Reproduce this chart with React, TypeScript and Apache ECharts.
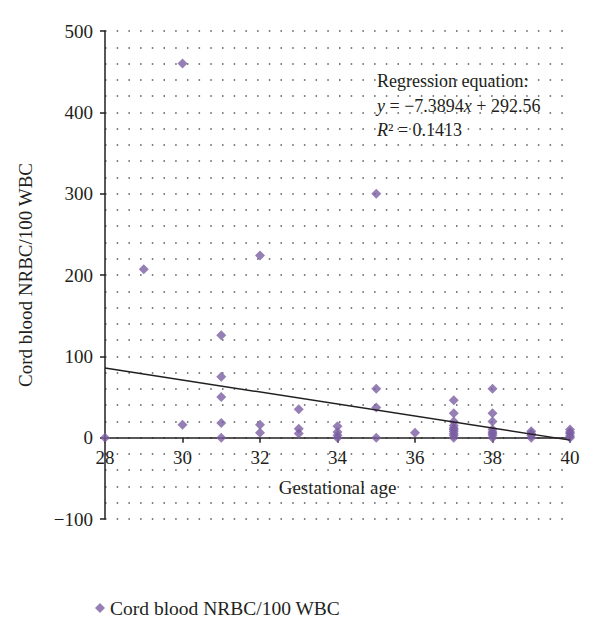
import React, { useEffect, useRef } from "react";
import * as echarts from "echarts";

const seriesName = "Cord blood NRBC/100 WBC";
const xAxisName = "Gestational age";
const yAxisName = "Cord blood NRBC/100 WBC";

// Gestational age (weeks) and NRBC/100 WBC
const ages: number[] = [
  28, 29, 30, 30,
  31, 31, 31, 31, 31,
  32, 32, 32,
  33, 33, 33,
  34, 34, 34, 34,
  35, 35, 35, 35,
  36,
  37, 37, 37, 37, 37, 37, 37, 37, 37, 37,
  38, 38, 38, 38, 38, 38, 38, 38,
  39, 39, 39, 39,
  40, 40, 40, 40, 40,
];
const nrbc: number[] = [
  0, 207, 460, 16,
  126, 75, 50, 18, 0,
  224, 16, 6,
  35, 11, 5,
  14, 7, 3, 0,
  300, 60, 37, 0,
  6,
  46, 30, 20, 15, 12, 10, 8, 5, 3, 0,
  60, 30, 20, 10, 7, 5, 3, 0,
  8, 5, 3, 0,
  10, 7, 5, 2, 0,
];

// Regression line endpoints (y = -7.3894x + 292.56 at x = 28 and 40)
const trendX: number[] = [28, 40];
const trendY: number[] = [85.66, -3.02];

const equationLines: string[] = [
  "Regression equation:",
  "{i|y} = \u22127.3894{i|x} + 292.56",
  "{i|R}\u00b2 = 0.1413",
];

const FONT = "'Liberation Serif', 'DejaVu Serif', serif";
const INK = "#231f20";
const PURPLE = "#7a5fa3";

const GRID_TOP = 23;
const GRID_BOTTOM = 131;
const CHART_H = 642;
const PLOT_H = CHART_H - GRID_TOP - GRID_BOTTOM;
const Y_MIN = -100;
const Y_MAX = 500;

export default function App() {
  const ref = useRef<HTMLDivElement>(null);

  useEffect(() => {
    if (!ref.current) return;
    const chart = echarts.init(ref.current, undefined, { renderer: "svg" });
    const dotted = { color: "#555", width: 1.5, type: [1.5, 10.2] as number[] };
    const zeroOffset = -(PLOT_H * (0 - Y_MIN)) / (Y_MAX - Y_MIN);
    chart.setOption({
      animation: false,
      backgroundColor: "#fff",
      textStyle: { fontFamily: FONT, color: INK },
      grid: { left: 92, right: 38, top: GRID_TOP, bottom: GRID_BOTTOM },
      legend: {
        data: [seriesName],
        left: 82,
        top: 585,
        icon: "diamond",
        itemWidth: 10,
        itemHeight: 10,
        itemGap: 6,
        textStyle: { fontFamily: FONT, fontSize: 19.5, color: INK },
      },
      xAxis: {
        type: "value",
        position: "bottom",
        offset: zeroOffset,
        min: 28,
        max: 40,
        interval: 2,
        name: xAxisName,
        nameLocation: "middle",
        nameGap: 40,
        nameTextStyle: { fontFamily: FONT, fontSize: 19, color: INK },
        axisLine: { onZero: false, lineStyle: { color: INK, width: 1.5 } },
        axisTick: { show: true, length: 5, lineStyle: { color: INK, width: 1.5 } },
        axisLabel: { fontFamily: FONT, fontSize: 19, color: INK, margin: 10 },
        splitLine: { show: false },
      },
      yAxis: {
        type: "value",
        min: Y_MIN,
        max: Y_MAX,
        interval: 100,
        name: yAxisName,
        nameLocation: "middle",
        nameGap: 70,
        nameTextStyle: { fontFamily: FONT, fontSize: 19, color: INK },
        axisLine: { show: true, onZero: false, lineStyle: { color: INK, width: 1.5 } },
        axisTick: { show: true, length: 5, lineStyle: { color: INK, width: 1.5 } },
        axisLabel: {
          fontFamily: FONT,
          fontSize: 19,
          color: INK,
          margin: 12,
          formatter: (v: number) => (v < 0 ? "\u2212" + Math.abs(v) : String(v)),
        },
        splitLine: { show: true, lineStyle: dotted },
        minorTick: { show: false, splitNumber: 5 },
        minorSplitLine: { show: true, lineStyle: dotted },
      },
      series: [
        {
          name: seriesName,
          type: "scatter",
          symbol: "diamond",
          symbolSize: 10,
          itemStyle: { color: PURPLE },
          data: ages.map((a, i) => [a, nrbc[i]]),
          z: 3,
        },
        {
          name: "trend",
          type: "line",
          symbol: "none",
          data: trendX.map((a, i) => [a, trendY[i]]),
          lineStyle: { color: INK, width: 1.5 },
          z: 4,
        },
      ],
      graphic: equationLines.map((t, i) => ({
        type: "text",
        left: 369,
        top: 64 + i * 24.5,
        z: 10,
        style: {
          text: t,
          fill: INK,
          fontFamily: FONT,
          fontSize: 18,
          rich: {
            i: { fontStyle: "italic", fontFamily: FONT, fontSize: 18, fill: INK },
          },
        },
      })),
    });
    return () => chart.dispose();
  }, []);

  return <div ref={ref} style={{ width: 600, height: CHART_H }} />;
}
